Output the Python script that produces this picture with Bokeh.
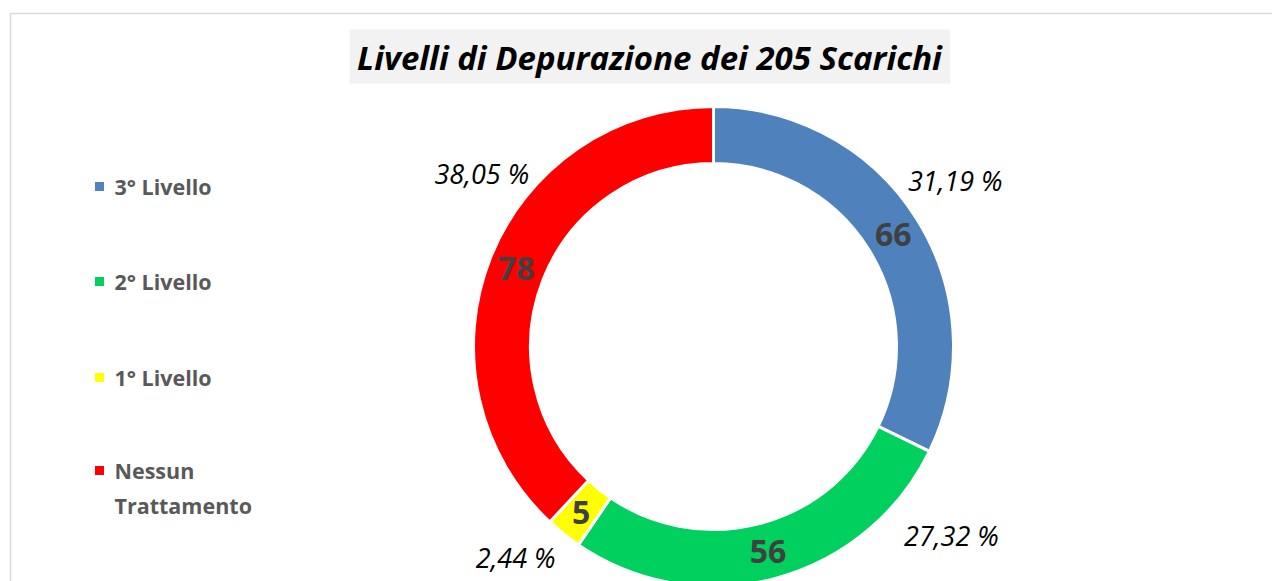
import math
from bokeh.plotting import figure
from bokeh.models import Range1d, ColumnDataSource
from bokeh.core.properties import value
from bokeh.embed import file_html
from bokeh.resources import INLINE

# ---- data ----
categories = ["3° Livello", "2° Livello", "1° Livello", "Nessun Trattamento"]
legend_lines = [["3° Livello"], ["2° Livello"], ["1° Livello"], ["Nessun", "Trattamento"]]
counts = [66, 56, 5, 78]
pct_labels = ["31,19 %", "27,32 %", "2,44 %", "38,05 %"]
colors = ["#4f81bd", "#00d05e", "#ffff00", "#ff0000"]
title = "Livelli di Depurazione dei 205 Scarichi"

# ---- layout ----
W, H = 1272, 581
cx, cy = 713, H - 346
r_out, r_in = 240, 183
r_val = 212
pct_angle_deg = [55.6, 128.5, 223.2, 306.7]
pct_radius = [293, 304, 289, 289]
legend_y = [186, 281, 377, 470]

p = figure(width=W, height=H, output_backend="svg", toolbar_location=None,
           x_range=Range1d(0, W), y_range=Range1d(0, H), min_border=0)
p.axis.visible = False
p.grid.visible = False
p.outline_line_color = None
p.background_fill_color = "white"
p.border_fill_color = "white"

# outer chart frame
p.quad(left=[10], right=[W + 20], top=[H - 13], bottom=[-20],
       fill_color=None, line_color="#d9d9d9", line_width=1.5)

# title
p.quad(left=[349], right=[950], top=[H - 29], bottom=[H - 83],
       fill_color="#f2f2f2", line_color=None)
p.text(x=[649], y=[H - 57], text=[title], text_font=value("Open Sans"),
       text_font_style="bold italic", text_font_size="33px", text_color="black",
       text_align="center", text_baseline="middle")

# wedges
total = sum(counts)
starts, ends, mids = [], [], []
acc = 0
for c in counts:
    a0 = math.pi / 2 - 2 * math.pi * acc / total
    a1 = math.pi / 2 - 2 * math.pi * (acc + c) / total
    starts.append(a0)
    ends.append(a1)
    mids.append((a0 + a1) / 2)
    acc += c

src = ColumnDataSource(dict(start=starts, end=ends, color=colors))
p.annular_wedge(x=cx, y=cy, inner_radius=r_in, outer_radius=r_out,
                start_angle="start", end_angle="end", direction="clock",
                fill_color="color", line_color="white", line_width=3, source=src)

# value labels
p.text(x=[cx + r_val * math.cos(m) for m in mids],
       y=[cy + r_val * math.sin(m) for m in mids],
       text=[str(c) for c in counts], text_font=value("Open Sans"),
       text_font_style="bold", text_font_size="32px", text_color="#404040",
       text_align="center", text_baseline="middle")

# percent labels
p.text(x=[cx + r * math.sin(math.radians(a)) for a, r in zip(pct_angle_deg, pct_radius)],
       y=[cy + r * math.cos(math.radians(a)) for a, r in zip(pct_angle_deg, pct_radius)],
       text=pct_labels, text_font=value("Open Sans"), text_font_style="italic",
       text_font_size="27px", text_color="black",
       text_align="center", text_baseline="middle")

# legend
p.rect(x=[99] * 4, y=[H - y for y in legend_y], width=9, height=9,
       fill_color=colors, line_color=None)
lx, ly, lt = [], [], []
for y, lines in zip(legend_y, legend_lines):
    for i, t in enumerate(lines):
        lx.append(114)
        ly.append(H - (y + 35 * i))
        lt.append(t)
p.text(x=lx, y=ly, text=lt, text_font=value("Open Sans"), text_font_style="bold",
       text_font_size="21.5px", text_color="#595959",
       text_align="left", text_baseline="middle")

open("out.html", "w").write(file_html(p, INLINE))
